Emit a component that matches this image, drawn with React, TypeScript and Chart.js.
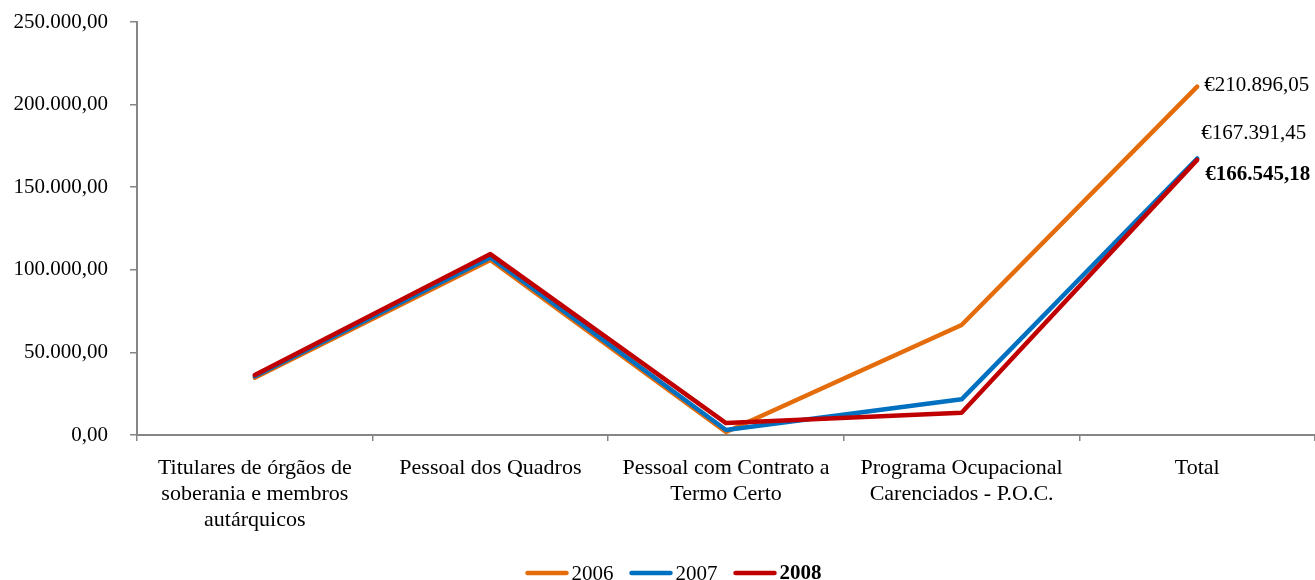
import React, { useEffect, useRef } from "react";
import { Chart, registerables } from "chart.js";

Chart.register(...registerables);

const categories: string[][] = [
  ["Titulares de órgãos de", "soberania e membros", "autárquicos"],
  ["Pessoal dos Quadros"],
  ["Pessoal com Contrato a", "Termo Certo"],
  ["Programa Ocupacional", "Carenciados - P.O.C."],
  ["Total"],
];

const values2006 = [34700, 106000, 1800, 66600, 210896.05];
const values2007 = [35500, 107500, 3000, 21600, 167391.45];
const values2008 = [36300, 109500, 7200, 13500, 166545.18];

const seriesNames = ["2006", "2007", "2008"];
const seriesColors = ["#E46C0A", "#0070C0", "#C00000"];
const totalLabels = ["€210.896,05", "€167.391,45", "€166.545,18"];

const yTicks = [0, 50000, 100000, 150000, 200000, 250000];

const FONT = "'Liberation Serif', 'Times New Roman', serif";

function fmt(v: number): string {
  const fixed = v.toFixed(2);
  const [intPart, dec] = fixed.split(".");
  const withSep = intPart.replace(/\B(?=(\d{3})+(?!\d))/g, ".");
  return withSep + "," + dec;
}

const totalLabelPlugin = {
  id: "totalLabels",
  afterDatasetsDraw(chart: any) {
    const ctx = chart.ctx;
    ctx.save();
    ctx.textBaseline = "middle";
    ctx.textAlign = "left";
    ctx.fillStyle = "#000";
    const offsets = [
      { dx: 7, dy: -1, bold: false },
      { dx: 4, dy: -25, bold: false },
      { dx: 8, dy: 15, bold: true },
    ];
    for (let i = 0; i < 3; i++) {
      const meta = chart.getDatasetMeta(i);
      const pt = meta.data[meta.data.length - 1];
      if (!pt) continue;
      ctx.font = (offsets[i].bold ? "bold " : "") + "21px " + FONT;
      ctx.fillText(totalLabels[i], pt.x + offsets[i].dx, pt.y + offsets[i].dy);
    }
    ctx.restore();
  },
};

const legendPlugin = {
  id: "customLegend",
  afterDraw(chart: any) {
    const ctx = chart.ctx;
    ctx.save();
    const y = 573;
    const lineLen = 43;
    const gapLineText = 3;
    const gapItems = 16;
    ctx.textBaseline = "middle";
    ctx.textAlign = "left";
    const widths: number[] = [];
    for (let i = 0; i < 3; i++) {
      ctx.font = (i === 2 ? "bold " : "") + "21px " + FONT;
      widths.push(ctx.measureText(seriesNames[i]).width);
    }
    let total = 0;
    for (let i = 0; i < 3; i++) total += lineLen + gapLineText + widths[i];
    total += gapItems * 2;
    let x = chart.width / 2 - total / 2 + 16;
    for (let i = 0; i < 3; i++) {
      ctx.strokeStyle = seriesColors[i];
      ctx.lineWidth = 4.5;
      ctx.lineCap = "round";
      ctx.beginPath();
      ctx.moveTo(x + 2, y);
      ctx.lineTo(x + lineLen - 2, y);
      ctx.stroke();
      x += lineLen + gapLineText;
      ctx.font = (i === 2 ? "bold " : "") + "21px " + FONT;
      ctx.fillStyle = "#000";
      ctx.fillText(seriesNames[i], x, y + 1);
      x += widths[i] + gapItems;
    }
    ctx.restore();
  },
};

export default function App() {
  const canvasRef = useRef<HTMLCanvasElement | null>(null);

  useEffect(() => {
    if (!canvasRef.current) return;
    const allSeries = [values2006, values2007, values2008];
    const chart = new Chart(canvasRef.current, {
      type: "line",
      data: {
        labels: categories,
        datasets: allSeries.map((vals, i) => ({
          label: seriesNames[i],
          data: vals,
          borderColor: seriesColors[i],
          backgroundColor: seriesColors[i],
          borderWidth: 4.5,
          pointRadius: 0,
          tension: 0,
          borderCapStyle: "round" as const,
          borderJoinStyle: "round" as const,
          order: 2 - i,
        })),
      },
      options: {
        animation: false,
        responsive: false,
        maintainAspectRatio: false,
        layout: { padding: { top: 22, right: 0, left: 0, bottom: 0 } },
        plugins: {
          legend: { display: false },
          tooltip: { enabled: false },
        },
        scales: {
          x: {
            type: "category",
            offset: true,
            grid: {
              offset: true,
              drawOnChartArea: false,
              drawTicks: true,
              tickLength: 6,
              color: "#868686",
              lineWidth: 1.5,
            },
            border: { color: "#868686", width: 2 },
            ticks: {
              color: "#000",
              font: { family: FONT, size: 22, lineHeight: 1.18 },
              padding: 14,
              maxRotation: 0,
              minRotation: 0,
              autoSkip: false,
            },
            afterFit: (scale: any) => {
              scale.height = 145;
              scale.paddingLeft = 0;
              scale.paddingRight = 0;
            },
          },
          y: {
            min: 0,
            max: 250000,
            afterBuildTicks: (scale: any) => {
              scale.ticks = yTicks.map((v) => ({ value: v }));
            },
            grid: {
              drawOnChartArea: false,
              drawTicks: true,
              tickLength: 7,
              color: "#868686",
              lineWidth: 1.5,
            },
            border: { color: "#868686", width: 2 },
            ticks: {
              color: "#000",
              font: { family: FONT, size: 21 },
              padding: 22,
              callback: (v: any) => fmt(Number(v)),
            },
            afterFit: (scale: any) => {
              scale.width = 137;
              scale.paddingTop = 0;
              scale.paddingBottom = 0;
            },
          },
        },
      },
      plugins: [totalLabelPlugin, legendPlugin],
    });
    return () => chart.destroy();
  }, []);

  return (
    <div
      style={{
        position: "fixed",
        left: 0,
        top: 0,
        width: 1315,
        height: 580,
        background: "#fff",
      }}
    >
      <canvas ref={canvasRef} width={1315} height={580} />
    </div>
  );
}
